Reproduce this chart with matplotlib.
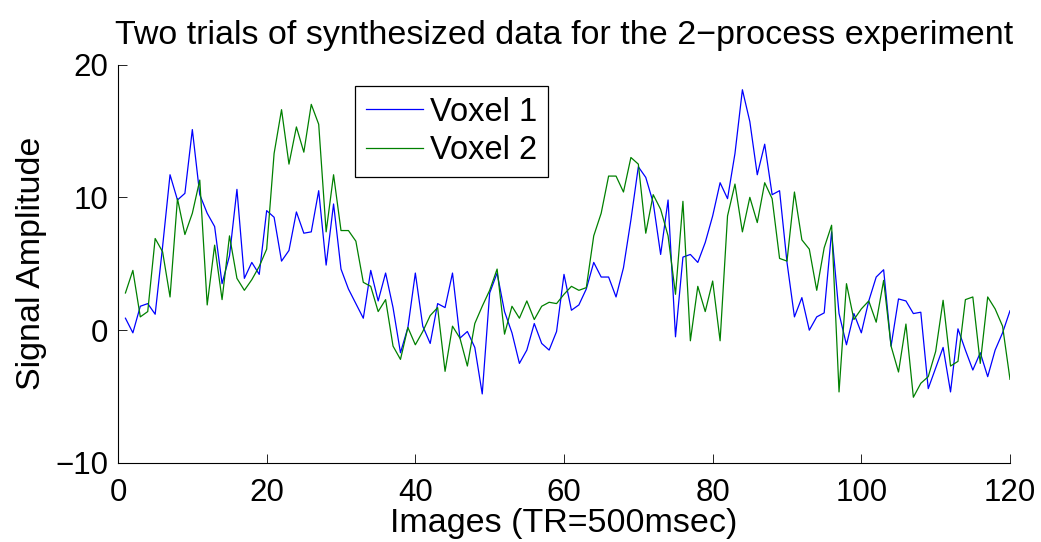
import numpy as np
import matplotlib
matplotlib.use("Agg")
import matplotlib.pyplot as plt

plt.rcParams['font.family'] = ['Liberation Sans', 'DejaVu Sans']

images = list(range(1, 121))

voxel1 = [0.9, -0.2, 1.8, 2.0, 1.2, 6.3, 11.7, 9.8, 10.3, 15.1,
          10.2, 8.8, 7.8, 3.5, 5.6, 10.6, 3.9, 5.1, 4.2, 9.0,
          8.5, 5.2, 6.0, 8.9, 7.3, 7.4, 10.5, 4.9, 9.5, 4.6,
          3.1, 2.0, 0.9, 4.5, 2.2, 4.3, 1.7, -1.7, 0.2, 4.3,
          0.3, -1.0, 2.0, 1.7, 4.3, -0.6, -0.1, -1.3, -4.8, 2.8,
          4.3, 1.4, -0.2, -2.5, -1.5, 0.5, -1.0, -1.5, -0.1, 4.2,
          1.5, 1.9, 3.1, 5.1, 4.0, 4.0, 2.5, 4.7, 8.3, 12.3,
          11.5, 9.6, 5.7, 9.8, -0.5, 5.5, 5.7, 5.1, 6.6, 8.6,
          11.1, 9.9, 13.3, 18.1, 15.7, 11.7, 14.0, 10.2, 10.5, 5.1,
          1.0, 2.45, 0.0, 1.0, 1.3, 7.4, 1.25, -1.1, 1.25, -0.2,
          2.2, 4.0, 4.55, -1.2, 2.35, 2.2, 1.25, 1.35, -4.4, -2.85,
          -1.3, -4.65, 0.1, -1.5, -3.0, -1.7, -3.5, -1.5, -0.2, 1.46]

voxel2 = [2.8, 4.5, 1.0, 1.4, 6.9, 5.9, 2.5, 9.9, 7.2, 8.8,
          11.3, 1.9, 6.4, 2.3, 7.1, 3.9, 3.0, 3.8, 4.8, 6.1,
          13.3, 16.6, 12.5, 15.3, 13.4, 17.0, 15.5, 7.4, 11.7, 7.5,
          7.5, 6.7, 3.6, 3.3, 1.4, 2.3, -1.2, -2.2, 0.2, -1.1,
          -0.1, 1.1, 1.7, -3.1, 0.3, -0.6, -2.7, 0.5, 1.8, 3.0,
          4.6, -0.3, 1.8, 0.9, 2.2, 0.8, 1.8, 2.1, 2.0, 2.7,
          3.3, 3.0, 3.2, 7.1, 8.8, 11.6, 11.6, 10.4, 13.0, 12.5,
          7.3, 10.2, 9.1, 7.1, 2.7, 9.7, -0.8, 3.3, 1.4, 3.7,
          -0.8, 8.6, 11.0, 7.4, 10.0, 8.1, 11.1, 9.9, 5.4, 5.2,
          10.4, 6.8, 6.1, 3.0, 6.2, 7.9, -4.65, 3.5, 0.8, 1.6,
          2.2, 0.6, 3.75, -1.2, -3.15, 0.46, -5.05, -4.0, -3.5, -1.6,
          2.25, -2.7, -2.35, 2.3, 2.5, -2.5, 2.5, 1.6, 0.3, -3.7]

xticks = [0, 20, 40, 60, 80, 100, 120]
yticks = [-10, 0, 10, 20]

fig = plt.figure(figsize=(10.41, 5.42), dpi=100)
ax = fig.add_axes([118/1041, 79/542, 892/1041, 398.5/542])

ax.plot(images, voxel1, color=(0, 0, 1), lw=0.9, label='Voxel 1')
ax.plot(images, voxel2, color=(0, 0.5, 0), lw=0.9, label='Voxel 2')

ax.set_xlim(0, 120)
ax.set_ylim(-10, 20)
ax.set_xticks(xticks)
ax.set_yticks(yticks)
ax.spines['top'].set_visible(False)
ax.spines['right'].set_visible(False)
for s in ('left', 'bottom'):
    ax.spines[s].set_linewidth(0.8)
ax.tick_params(direction='in', length=6.5, width=0.6, labelsize=22.5)
ax.tick_params(axis='x', pad=10.5)
ax.tick_params(axis='y', pad=7)

ax.set_title('Two trials of synthesized data for the 2\u2212process experiment',
             fontsize=24.5, pad=15)
ax.set_xlabel('Images (TR=500msec)', fontsize=24.5, labelpad=0)
ax.set_ylabel('Signal Amplitude', fontsize=24.5, labelpad=6)

leg = ax.legend(loc='upper left', bbox_to_anchor=(0.266, 0.946), fontsize=23.5,
                fancybox=False, framealpha=1, edgecolor='black',
                borderaxespad=0, handlelength=1.75, handletextpad=0.2,
                labelspacing=0.22, borderpad=0.33)
leg.get_frame().set_linewidth(0.9)

fig.savefig('out.png', dpi=100)
